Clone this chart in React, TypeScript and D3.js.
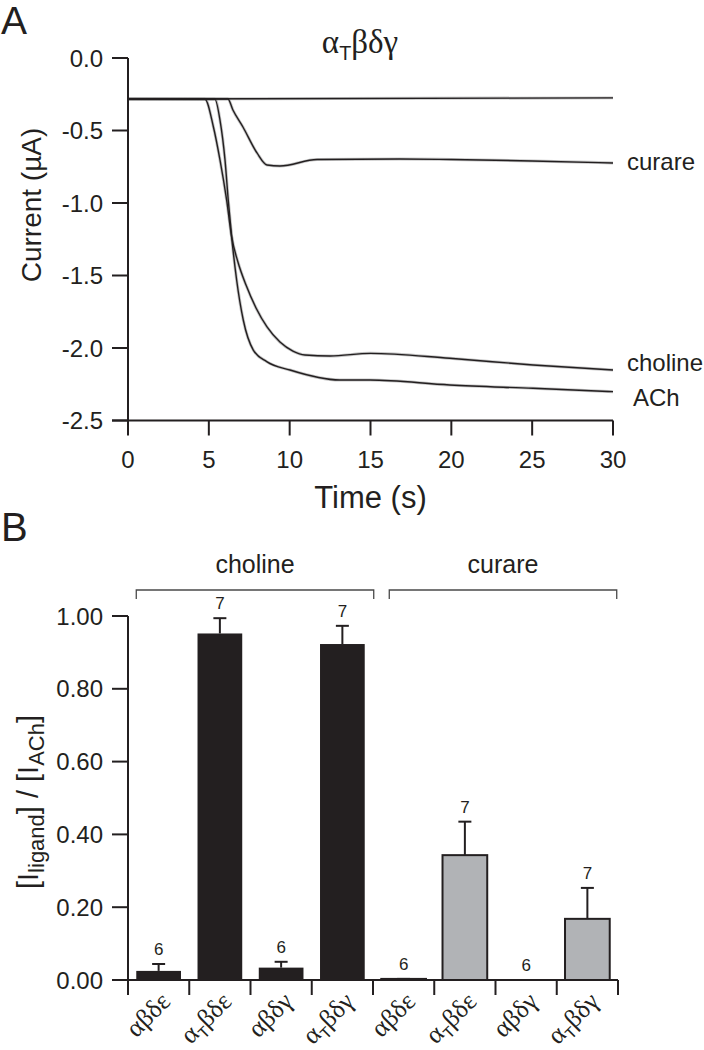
import React from 'react';
import * as d3 from 'd3';

// ---------- Panel A data ----------
const timeTicks = [0, 5, 10, 15, 20, 25, 30];
const currentTicks = [0, -0.5, -1.0, -1.5, -2.0, -2.5];

const flatT = [0, 30];
const flatV = [-0.283, -0.275];

const curareT = [0, 6.18, 6.49, 7.11, 7.98, 8.6, 9.4, 11.7, 16.8, 20, 25, 30];
const curareV = [-0.283, -0.283, -0.359, -0.476, -0.655, -0.738, -0.745, -0.7, -0.697, -0.7, -0.71, -0.724];

const cholineT = [0, 4.76, 5.28, 5.69, 6.1, 6.41, 6.8, 7.3, 7.92, 8.6, 9.4, 10.2, 10.95, 12.5, 15, 19.9, 25.06, 30];
const cholineV = [-0.283, -0.285, -0.474, -0.703, -0.979, -1.232, -1.407, -1.566, -1.724, -1.855, -1.959, -2.021, -2.048, -2.055, -2.037, -2.071, -2.117, -2.152];

const achT = [0, 5.38, 5.69, 6.0, 6.2, 6.41, 6.72, 7.13, 7.75, 8.58, 10.02, 13.1, 14.97, 19.9, 25.06, 30];
const achV = [-0.283, -0.285, -0.428, -0.703, -0.979, -1.232, -1.531, -1.807, -2.014, -2.094, -2.152, -2.221, -2.221, -2.255, -2.278, -2.301];

const traceNames = ['curare', 'choline', 'ACh'];

// ---------- Panel B data ----------
const barCats = ['αβδε', 'αTβδε', 'αβδγ', 'αTβδγ', 'αβδε', 'αTβδε', 'αβδγ', 'αTβδγ'];
const barGroup = ['choline', 'choline', 'choline', 'choline', 'curare', 'curare', 'curare', 'curare'];
const barMean = [0.025, 0.952, 0.034, 0.923, 0.003, 0.343, 0.0, 0.168];
const barSem = [0.019, 0.042, 0.016, 0.05, 0.0, 0.092, 0.0, 0.085];
const barN = [6, 7, 6, 7, 6, 7, 6, 7];
const ratioTicks = [0, 0.2, 0.4, 0.6, 0.8, 1.0];
const groupNames = ['choline', 'curare'];

const INK = '#231f20';
const SANS = '"Liberation Sans", Arial, Helvetica, sans-serif';
const GREEK = '"Liberation Serif", "DejaVu Serif", serif';

function GreekLabel({ text, x, y, size, anchor, transform }: any) {
  const hasT = text.charAt(1) === 'T';
  const head = text.charAt(0);
  const tail = hasT ? text.slice(2) : text.slice(1);
  return (
    <text x={x} y={y} fontFamily={GREEK} fontSize={size} textAnchor={anchor} fill={INK} transform={transform}>
      {head}
      {hasT ? (
        <>
          <tspan fontFamily={SANS} fontSize={size * 0.6} dy={size * 0.22}>T</tspan>
          <tspan dy={-size * 0.22}>{tail}</tspan>
        </>
      ) : (
        <tspan>{tail}</tspan>
      )}
    </text>
  );
}

export default function App() {
  // Panel A scales
  const xT = d3.scaleLinear().domain([0, 30]).range([128, 613]);
  const yT = d3.scaleLinear().domain([0, -2.5]).range([58, 420.5]);
  const line = d3
    .line<[number, number]>()
    .x((d) => xT(d[0]))
    .y((d) => yT(d[1]))
    .curve(d3.curveMonotoneX);
  const mk = (t: number[], v: number[]) => line(t.map((tt, i) => [tt, v[i]] as [number, number])) as string;
  const traces = [
    { d: mk(flatT, flatV) },
    { d: mk(curareT, curareV), name: traceNames[0], end: curareV[curareV.length - 1], dy: 7, dx: 14 },
    { d: mk(cholineT, cholineV), name: traceNames[1], end: cholineV[cholineV.length - 1], dy: 1, dx: 14 },
    { d: mk(achT, achV), name: traceNames[2], end: achV[achV.length - 1], dy: 14, dx: 20 },
  ];

  // Panel B scales
  const xB = d3
    .scaleBand<number>()
    .domain(barCats.map((_, i) => i))
    .range([128, 618])
    .paddingInner(0.27)
    .paddingOuter(0.135);
  const yB = d3.scaleLinear().domain([0, 1]).range([980, 616]);
  const step = xB.step();
  const bw = xB.bandwidth();
  const boundaries = d3.range(barCats.length + 1).map((i) => 128 + i * step);

  const groupSpans = groupNames.map((g, gi) => {
    const idx = barGroup.map((b, i) => (b === g ? i : -1)).filter((i) => i >= 0);
    const first = idx[0];
    const last = idx[idx.length - 1];
    const x1 = (xB(first) as number) + (gi === 0 ? 0 : 8);
    const x2 = (xB(last) as number) + bw + (gi === 0 ? 9 : 7);
    return { g, x1, x2 };
  });

  return (
    <svg
      width={704}
      height={1050}
      style={{ position: 'absolute', left: 0, top: 0, background: '#fff' }}
      fontFamily={SANS}
    >
      {/* Panel letters */}
      <text x={1} y={34} fontSize={39} fill={INK}>A</text>
      <text x={1} y={541} fontSize={40} fill={INK}>B</text>

      {/* ---------- Panel A ---------- */}
      <GreekLabel text="αTβδγ" x={360} y={53} size={33} anchor="middle" />

      {/* traces */}
      <g fill="none">
        {traces.map((tr, i) => (
          <path key={'h' + i} d={tr.d} stroke="#7a7a7a" strokeWidth={3} strokeOpacity={0.45} />
        ))}
        {traces.map((tr, i) => (
          <path key={'l' + i} d={tr.d} stroke={INK} strokeWidth={1.4} />
        ))}
      </g>
      {traces
        .filter((tr) => tr.name)
        .map((tr) => (
          <text key={tr.name} x={xT(30) + (tr.dx as number)} y={yT(tr.end as number) + (tr.dy as number)} fontSize={24} fill={INK}>
            {tr.name}
          </text>
        ))}

      {/* y axis */}
      <line x1={128} x2={128} y1={yT(0)} y2={yT(-2.5)} stroke={INK} strokeWidth={2} />
      {currentTicks.map((v) => (
        <g key={v}>
          <line x1={112} x2={128} y1={yT(v)} y2={yT(v)} stroke={INK} strokeWidth={2} />
          <text x={103} y={yT(v) + 8.5} fontSize={24} textAnchor="end" fill={INK}>
            {d3.format('.1f')(v).replace('−', '-')}
          </text>
        </g>
      ))}
      {/* x axis */}
      <line x1={112} x2={xT(30)} y1={yT(-2.5)} y2={yT(-2.5)} stroke={INK} strokeWidth={2} />
      {timeTicks.map((t) => (
        <g key={t}>
          <line x1={xT(t)} x2={xT(t)} y1={yT(-2.5)} y2={yT(-2.5) + 15} stroke={INK} strokeWidth={2} />
          <text x={xT(t)} y={468} fontSize={24} textAnchor="middle" fill={INK}>{t}</text>
        </g>
      ))}
      <text x={xT(15)} y={508} fontSize={31} textAnchor="middle" fill={INK}>Time (s)</text>
      <text transform="translate(41,205) rotate(-90)" fontSize={28} textAnchor="middle" fill={INK}>Current (µA)</text>

      {/* ---------- Panel B ---------- */}
      {groupSpans.map((s) => (
        <g key={s.g}>
          <path d={`M${s.x1},599V590H${s.x2}V599`} fill="none" stroke="#4a4a4a" strokeWidth={1.3} />
          <text x={(s.x1 + s.x2) / 2} y={573} fontSize={25} textAnchor="middle" fill={INK}>{s.g}</text>
        </g>
      ))}

      {/* bars */}
      {barMean.map((m, i) => {
        const x = xB(i) as number;
        const cx = x + bw / 2;
        const top = yB(m);
        const capY = yB(m + barSem[i]);
        const isChol = barGroup[i] === 'choline';
        return (
          <g key={i}>
            <line x1={cx} x2={cx} y1={top} y2={capY} stroke={INK} strokeWidth={2} />
            <line x1={cx - 6.5} x2={cx + 6.5} y1={capY} y2={capY} stroke={INK} strokeWidth={2} />
            {m > 0 && (
              <rect
                x={x}
                y={top}
                width={bw}
                height={yB(0) - top}
                fill={isChol ? INK : '#b1b3b6'}
                stroke={INK}
                strokeWidth={isChol ? 0 : 2}
              />
            )}
            <text x={cx} y={capY - 9} fontSize={17} textAnchor="middle" fill={INK}>{barN[i]}</text>
          </g>
        );
      })}

      {/* y axis B */}
      <line x1={128} x2={128} y1={yB(1)} y2={yB(0) + 15} stroke={INK} strokeWidth={2} />
      {ratioTicks.map((v) => (
        <g key={v}>
          <line x1={112} x2={128} y1={yB(v)} y2={yB(v)} stroke={INK} strokeWidth={2} />
          <text x={103} y={yB(v) + 8.5} fontSize={24} textAnchor="end" fill={INK}>{d3.format('.2f')(v)}</text>
        </g>
      ))}
      {/* x axis B */}
      <line x1={112} x2={boundaries[boundaries.length - 1]} y1={yB(0)} y2={yB(0)} stroke={INK} strokeWidth={2} />
      {boundaries.map((b, i) => (
        <line key={i} x1={b} x2={b} y1={yB(0)} y2={yB(0) + 15} stroke={INK} strokeWidth={2} />
      ))}
      {barCats.map((c, i) => {
        const cx = (xB(i) as number) + bw / 2;
        const px = cx + 13;
        const py = 1003;
        return <GreekLabel key={i} text={c} x={px} y={py} size={26} anchor="end" transform={`rotate(-45,${px},${py})`} />;
      })}

      <text transform="translate(38,802) rotate(-90)" fontSize={29} textAnchor="middle" fill={INK}>
        [I<tspan fontSize={22} dy={6}>ligand</tspan>
        <tspan dy={-6}>] / [I</tspan>
        <tspan fontSize={22} dy={6}>ACh</tspan>
        <tspan dy={-6}>]</tspan>
      </text>
    </svg>
  );
}
